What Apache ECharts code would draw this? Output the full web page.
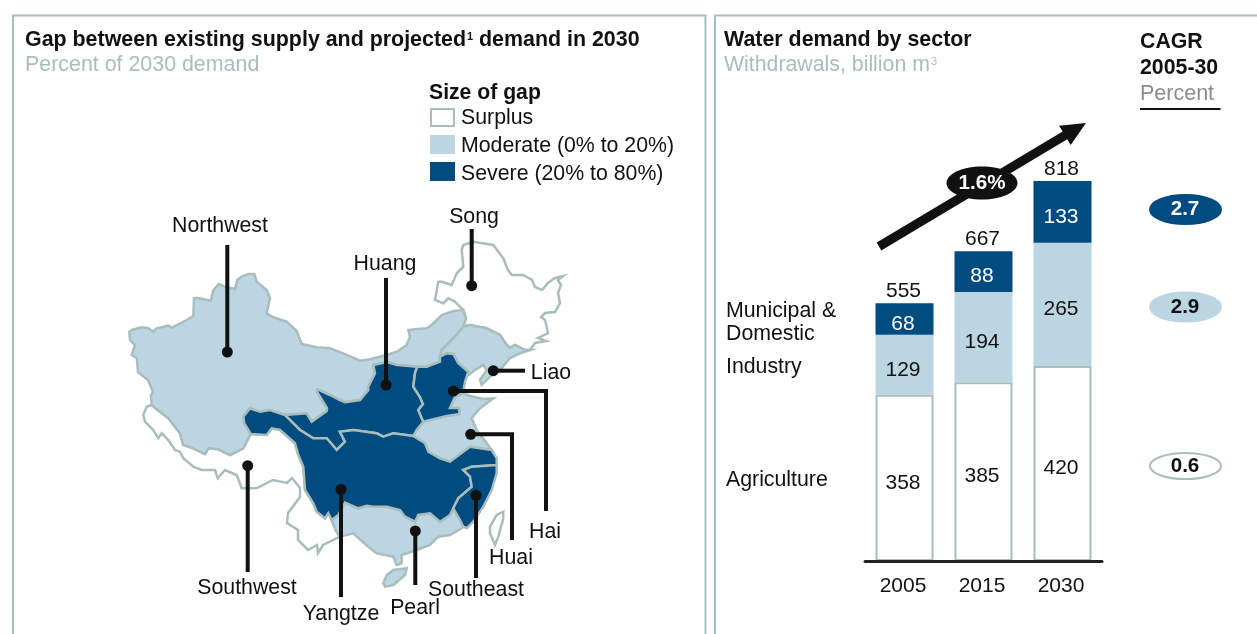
<!DOCTYPE html>
<html>
<head>
<meta charset="utf-8">
<style>html,body{margin:0;padding:0;background:#fff}#c{width:1257px;height:634px}</style>
<script src="https://cdn.jsdelivr.net/npm/echarts@6/dist/echarts.min.js"></script>
</head>
<body>
<div id="c"></div>
<script>
// ---- bar chart data ----
const years = ['2005', '2015', '2030'];
const agriculture = [358, 385, 420];
const industry = [129, 194, 265];
const municipal = [68, 88, 133];
const totals = [555, 667, 818];
const sectorNames = ['Agriculture', 'Industry', 'Municipal &\nDomestic'];
const cagrValues = ['0.6', '2.9', '2.7'];
const overallCagr = '1.6%';

// ---- legend ----
const legendNames = ['Surplus', 'Moderate (0% to 20%)', 'Severe (20% to 80%)'];

// ---- river basin outlines (in map units) ----
const northwest = [[129.3,331.7],[131.7,330],[141.7,327.3],[148.3,328.3],[153.3,331.7],[156.7,328.3],[168.3,325.7],[171.7,327.7],[186.7,320],[193.3,316],[194,298.3],[197.3,297.7],[210.7,300.7],[213.3,290],[219,284],[226.7,287.3],[235,289],[237.3,280],[241.7,276.7],[248.3,274],[254.3,274],[256.7,281.7],[266.7,290],[270,298.3],[266.7,313.3],[273.3,317.3],[286.7,321.7],[296.7,331],[301.7,344],[316.7,347.3],[330,348.3],[343.3,353.3],[360,360.7],[370,359.3],[386.7,355],[396.7,351.7],[406.7,345],[410,336.7],[408.3,330],[415,329.3],[426.7,328.3],[431.7,325],[441.7,315],[453.3,311],[463.3,310],[466,318.3],[463.3,326.7],[455,336.7],[441.7,350],[440,356.7],[440,361.7],[426.7,366.7],[417.3,366.7],[397,365],[387,362],[373.3,365],[375,373.3],[368.3,386.7],[368.3,390],[360,400],[345,402.3],[340,400],[330,395],[318,389.5],[316.5,391],[322,400],[327,408],[326.7,411],[311.7,421.7],[306.7,413.3],[285,415],[270,410],[260,411.7],[250,408.3],[243.3,416.7],[244.3,423.3],[250.7,434],[243.3,448.3],[230,455],[218.3,449.3],[208.3,448.3],[205,454],[193.3,448.3],[183.3,445],[180,433.3],[168.3,418.3],[160,411.7],[151.7,405],[151,395],[153,392],[148,380],[138,372],[136.7,358],[131.7,355],[135,345],[130,340]];
const song = [[463.3,326.7],[466,318.3],[463.3,310],[455,301.7],[448.3,298.3],[443.3,303.3],[435,300],[438.3,281.7],[441.7,281.7],[451.7,285],[456.7,273.3],[463.3,266.7],[461.7,250],[463.3,245],[473.3,241.7],[493.3,245],[503.3,258.3],[508,270],[512,275],[523,275],[532,280],[535,287],[542,290],[548,283],[555,278],[563,276],[558,280],[561,285],[558,293],[560,303],[555,312],[545,313],[541,317],[545,320],[548,333],[538,338],[546,341],[535,343],[530,350],[525,350],[515,345],[510,348],[506.7,345],[500,335],[486.7,328.3],[470,325]];
const liao = [[463.3,326.7],[470,325],[486.7,328.3],[500,335],[506.7,345],[510,348],[515,345],[525,350],[530,350],[520,353.3],[510,358],[500,370],[490,376.7],[481.7,385],[480,380],[486.7,370],[483.3,365],[475,370],[468.3,375],[468.3,371.7],[458.3,363.3],[453.3,354],[446.7,353.3],[440,356.7],[441.7,350],[455,336.7]];
const hai = [[440,356.7],[446.7,353.3],[453.3,354],[458.3,363.3],[468.3,371.7],[465,381.7],[463,393],[455,397],[450,408],[459,408],[459.5,414],[446.7,416],[423.3,421.7],[418.3,410],[423,404],[420,397],[413.3,386.7],[415,373],[417.3,366.7],[426.7,366.7],[440,361.7]];
const huang = [[373.3,365],[387,362],[397,365],[417.3,366.7],[415,373],[413.3,386.7],[420,397],[423,404],[418.3,410],[423.3,421.7],[416.7,430],[413.3,436],[393.3,433.3],[383.3,436.7],[376.7,433.3],[353.3,430],[340,431.7],[345,441.7],[336.7,450],[326.7,438.3],[313.3,438.3],[300,430],[288.3,418.3],[285,415],[306.7,413.3],[311.7,421.7],[326.7,411],[327,408],[322,400],[316.5,391],[318,389.5],[330,395],[340,400],[345,402.3],[360,400],[368.3,390],[368.3,386.7],[375,373.3]];
const huai = [[413.3,436],[425,443.3],[428.3,451.7],[440,458.3],[450,461.7],[470,446.7],[491.7,450],[486.7,443.3],[476.7,430],[471.7,418.3],[480,408.3],[493.3,398.3],[483,399],[470,396],[463,393],[455,397],[450,408],[459,408],[459.5,414],[446.7,416],[423.3,421.7],[416.7,430]];
const yangtze = [[285,415],[270,410],[260,411.7],[250,408.3],[243.3,416.7],[244.3,423.3],[250.7,434],[266.7,435],[271.7,428.3],[280,430],[295,443.3],[298.3,455],[303.3,466.7],[305,490],[313.3,503.3],[316.7,511.7],[325,518.3],[328.3,513.3],[331.7,520],[338.3,515],[345,502.7],[358.3,508.3],[366.7,505.7],[373.3,506.7],[386.7,506.7],[400,510],[405,516.7],[415,521.7],[418.3,515],[430,513.3],[440,521.7],[450,515],[453.3,508.3],[458.3,498.3],[471.7,486.7],[470,476.7],[463.3,470],[471.7,466.7],[496.7,465],[496.7,458.3],[491.7,450],[470,446.7],[450,461.7],[440,458.3],[428.3,451.7],[425,443.3],[413.3,436],[393.3,433.3],[383.3,436.7],[376.7,433.3],[353.3,430],[340,431.7],[345,441.7],[336.7,450],[326.7,438.3],[313.3,438.3],[300,430],[288.3,418.3]];
const southeast = [[453.3,508.3],[458.3,498.3],[471.7,486.7],[470,476.7],[463.3,470],[471.7,466.7],[496.7,465],[496.7,473],[491.7,490],[483.3,506.7],[473.3,521.7],[467,528],[463.3,526.7],[460,520]];
const pearl = [[331.7,520],[338.3,515],[345,502.7],[358.3,508.3],[366.7,505.7],[373.3,506.7],[386.7,506.7],[400,510],[405,516.7],[415,521.7],[418.3,515],[430,513.3],[440,521.7],[450,515],[453.3,508.3],[460,520],[463.3,526.7],[461.7,528.3],[450,535],[438.3,536.7],[430,545],[416.7,550],[401.7,555],[401.7,563.3],[396.7,565],[393.3,556.7],[376.7,553.3],[368.3,546.7],[353.3,533.3],[340,536.7],[336,531]];
const hainan = [[383.3,583.3],[386.7,575],[393.3,570],[406.7,568.3],[405,575],[393.3,585],[385,586.7]];
const taiwan = [[490,526.7],[496.7,515],[503.3,511.7],[503.3,518.3],[498.3,536.7],[495,545],[490,533.3]];
const southwest = [[151.7,405],[146.7,406.7],[143.3,415],[145,421.7],[153.3,430],[158.3,438.3],[161.7,433.3],[168.3,440],[175,450],[180,451.7],[183.3,458.3],[193.3,466.7],[201.7,470],[215,470],[217.7,478.3],[225,470],[236.7,475],[241.7,488.3],[257,488],[273,480],[287,483],[292,478],[300,488],[300,497],[288,513],[287,523],[298,530],[298,540],[308,550],[317,545],[318,553],[323,545],[340,536.7],[336,531],[331.7,520],[328.3,513.3],[325,518.3],[316.7,511.7],[313.3,503.3],[305,490],[303.3,466.7],[298.3,455],[295,443.3],[280,430],[271.7,428.3],[266.7,435],[250.7,434],[243.3,448.3],[230,455],[218.3,449.3],[208.3,448.3],[205,454],[193.3,448.3],[183.3,445],[180,433.3],[168.3,418.3],[160,411.7]];

// name, outline, gap class
const surplusBasins = [['Song', song], ['Southwest', southwest], ['Taiwan', taiwan]];
const moderateBasins = [['Northwest', northwest], ['Liao', liao], ['Huai', huai], ['Pearl', pearl], ['Hainan', hainan]];
const severeBasins = [['Huang', huang], ['Hai', hai], ['Yangtze', yangtze], ['Southeast', southeast]];

// leader paths and label anchors for the basin call-outs
const basinLeaders = [
  ['Northwest', [[227.3,352],[227.3,245]], [220,226]],
  ['Song', [[471.7,285.7],[471.7,229]], [474,217]],
  ['Huang', [[386,385],[386,278]], [385,264]],
  ['Liao', [[493.3,370.7],[525,370.7]], [551,373]],
  ['Hai', [[453.3,391],[546,391],[546,511]], [545,532]],
  ['Huai', [[470.7,434.3],[512,434.3],[512,540]], [511,558]],
  ['Southeast', [[476,495.3],[476,578]], [476,590]],
  ['Pearl', [[415.3,531],[415.3,585]], [415,608]],
  ['Yangtze', [[341,489.3],[341,597]], [341,614]],
  ['Southwest', [[247.7,465.7],[247.7,572]], [247,588]]
];

const COL = {light:'#BBD6E2', dark:'#004B7F', line:'#A9BDBD', grey:'#A9BDBD', black:'#111'};
const FONT = '"Liberation Sans", Arial, sans-serif';
const up = p => [p[0], -p[1]];

const features = [...surplusBasins, ...moderateBasins, ...severeBasins].map(([name, ring]) => ({
  type:'Feature', properties:{name},
  geometry:{type:'Polygon', coordinates:[[...ring, ring[0]].map(up)]}
}));
echarts.registerMap('basins', {type:'FeatureCollection', features});

const fillFor = (list, color) => list.map(([name]) => ({name, itemStyle:{areaColor:color}, emphasis:{disabled:true}}));
const txt = (text, x, y, size, fill, weight, extra) => ({
  type:'text', silent:true, z:50,
  style:Object.assign({text, x, y, fill, font:`${weight||'normal'} ${size}px ${FONT}`, textVerticalAlign:'middle', textAlign:'left'}, extra||{})
});
const rectShape = (x, y, w, h, fill, stroke) => ({type:'rect', silent:true, z:40, shape:{x, y, width:w, height:h}, style:{fill, stroke:stroke||null, lineWidth:stroke?2:0}});
const frame = pts => ({type:'polyline', silent:true, z:1, shape:{points:pts}, style:{fill:null, stroke:COL.line, lineWidth:2}});

const cagrRows = [[466, '#fff', COL.line, '#111'], [307, COL.light, COL.light, '#111'], [209.5, COL.dark, COL.dark, '#fff']];
const cagrGraphics = cagrRows.flatMap(([cy, fill, stroke, ink], i) => [
  {type:'ellipse', silent:true, z:40, shape:{cx:1185.5, cy, rx:35.5, ry:cy===466?13:14.5}, style:{fill, stroke, lineWidth:2}},
  txt(cagrValues[i], 1185, cy, 20.6, ink, 'bold', {textAlign:'center'})
]);
const barLabel = color => ({show:true, position:'inside', offset:[-1.5,5], color, fontSize:21, fontFamily:FONT});
const noMark = {color:'rgba(0,0,0,0)', opacity:1};

const option = {
  animation:false,
  backgroundColor:'#fff',
  geo:{
    map:'basins', silent:true, roam:false, aspectScale:1,
    left:0, top:0, width:1257, height:634,
    boundingCoords:[[0,0],[1257,-634]],
    label:{show:false},
    itemStyle:{areaColor:'#fff', borderColor:COL.line, borderWidth:2.5},
    regions:[...fillFor(surplusBasins,'#fff'), ...fillFor(moderateBasins,COL.light), ...fillFor(severeBasins,COL.dark)]
  },
  grid:{left:865, top:181, width:237, height:380, containLabel:false},
  xAxis:{type:'category', data:years, axisTick:{show:false}, z:10,
    axisLine:{lineStyle:{color:'#222', width:3}},
    axisLabel:{color:'#111', fontSize:21, fontFamily:FONT, margin:15, padding:[0,3,0,0]}},
  yAxis:{type:'value', min:0, max:818, show:false, splitLine:{show:false}},
  series:[
    {type:'bar', stack:'d', name:'Agriculture', data:agriculture, barWidth:58, z:3,
      itemStyle:{color:'#fff', borderColor:COL.line, borderWidth:2},
      label:barLabel('#111')},
    {type:'bar', stack:'d', name:'Industry', data:industry, barWidth:58, z:4,
      itemStyle:{color:COL.light},
      label:barLabel('#111')},
    {type:'bar', stack:'d', name:'Municipal', data:municipal, barWidth:58, z:4,
      itemStyle:{color:COL.dark},
      label:barLabel('#fff')},
    {type:'scatter', name:'Total', data:totals, symbolSize:0, z:5,
      itemStyle:noMark,
      label:{show:true, position:'top', distance:1, offset:[-1,0], color:'#111', fontSize:21, fontFamily:FONT, opacity:1, formatter:p=>p.value}},
    {type:'lines', coordinateSystem:'geo', polyline:true, silent:true, z:6,
      lineStyle:{color:COL.black, width:4, opacity:1, cap:'butt'},
      data:basinLeaders.map(b => ({name:b[0], coords:b[1].map(up)}))},
    {type:'scatter', coordinateSystem:'geo', silent:true, z:7, symbolSize:11,
      itemStyle:{color:COL.black, opacity:1},
      data:basinLeaders.map(b => ({name:b[0], value:up(b[1][0])}))},
    {type:'scatter', coordinateSystem:'geo', silent:true, z:8, symbolSize:0,
      itemStyle:noMark,
      label:{show:true, position:'inside', formatter:p=>p.name, color:'#111', fontSize:21.3, fontFamily:FONT, opacity:1},
      data:basinLeaders.map(b => ({name:b[0], value:up(b[2])}))}
  ],
  graphic:[
    frame([[13,634],[13,15.5],[705.5,15.5],[705.5,634]]),
    frame([[715,634],[715,15.5],[1257,15.5]]),
    {type:'text', silent:true, z:50, style:{x:25, y:40, textVerticalAlign:'middle',
      text:'{b|Gap between existing supply and projected}{s|1}{b| demand in 2030}',
      rich:{b:{font:`bold 21.4px ${FONT}`, fill:'#111'}, s:{font:`bold 11px ${FONT}`, fill:'#111', padding:[0,0,6,1]}}}},
    txt('Percent of 2030 demand', 25, 65, 21.4, COL.grey),
    txt('Size of gap', 429, 93.5, 21.2, '#111', 'bold'),
    rectShape(431, 109, 23, 17, '#fff', COL.line),
    rectShape(430, 135, 25, 19, COL.light),
    rectShape(430, 162, 25, 19, COL.dark),
    txt(legendNames[0], 461, 118, 21.3, '#111'),
    txt(legendNames[1], 461, 146, 21.3, '#111'),
    txt(legendNames[2], 461, 174, 21.3, '#111'),
    txt('Water demand by sector', 724, 40, 21.4, '#111', 'bold'),
    {type:'text', silent:true, z:50, style:{x:724, y:65, textVerticalAlign:'middle',
      text:'{a|Withdrawals, billion m}{s|3}',
      rich:{a:{font:`21.3px ${FONT}`, fill:COL.grey}, s:{font:`11px ${FONT}`, fill:COL.grey, padding:[0,0,6,1]}}}},
    txt('CAGR', 1140, 42, 21.3, '#111', 'bold'),
    txt('2005-30', 1140, 68, 21.3, '#111', 'bold'),
    txt('Percent', 1140, 94, 21.5, '#8c8c8c'),
    {type:'line', silent:true, z:40, shape:{x1:1140, y1:109, x2:1220.5, y2:109}, style:{stroke:'#111', lineWidth:2}},
    txt(sectorNames[2].split('\n')[0], 726, 311, 21.3, '#111'),
    txt(sectorNames[2].split('\n')[1], 726, 334, 21.3, '#111'),
    txt(sectorNames[1], 726, 367, 21.3, '#111'),
    txt(sectorNames[0], 726, 480, 21.3, '#111'),
    {type:'polygon', silent:true, z:30, shape:{points:[[876.7,242.6],[881.3,250.4],[1067.3,139.3],[1070.7,145],[1086,123],[1059,125.7],[1062.7,131.5]]}, style:{fill:COL.black}},
    {type:'ellipse', silent:true, z:31, shape:{cx:982, cy:183, rx:35.5, ry:16.5}, style:{fill:COL.black}},
    txt(overallCagr, 982, 183.5, 20.6, '#fff', 'bold', {textAlign:'center'}),
    ...cagrGraphics
  ]
};
const chart = echarts.init(document.getElementById('c'), null, {renderer:'canvas', width:1257, height:634});
chart.setOption(option);
</script>
</body>
</html>
